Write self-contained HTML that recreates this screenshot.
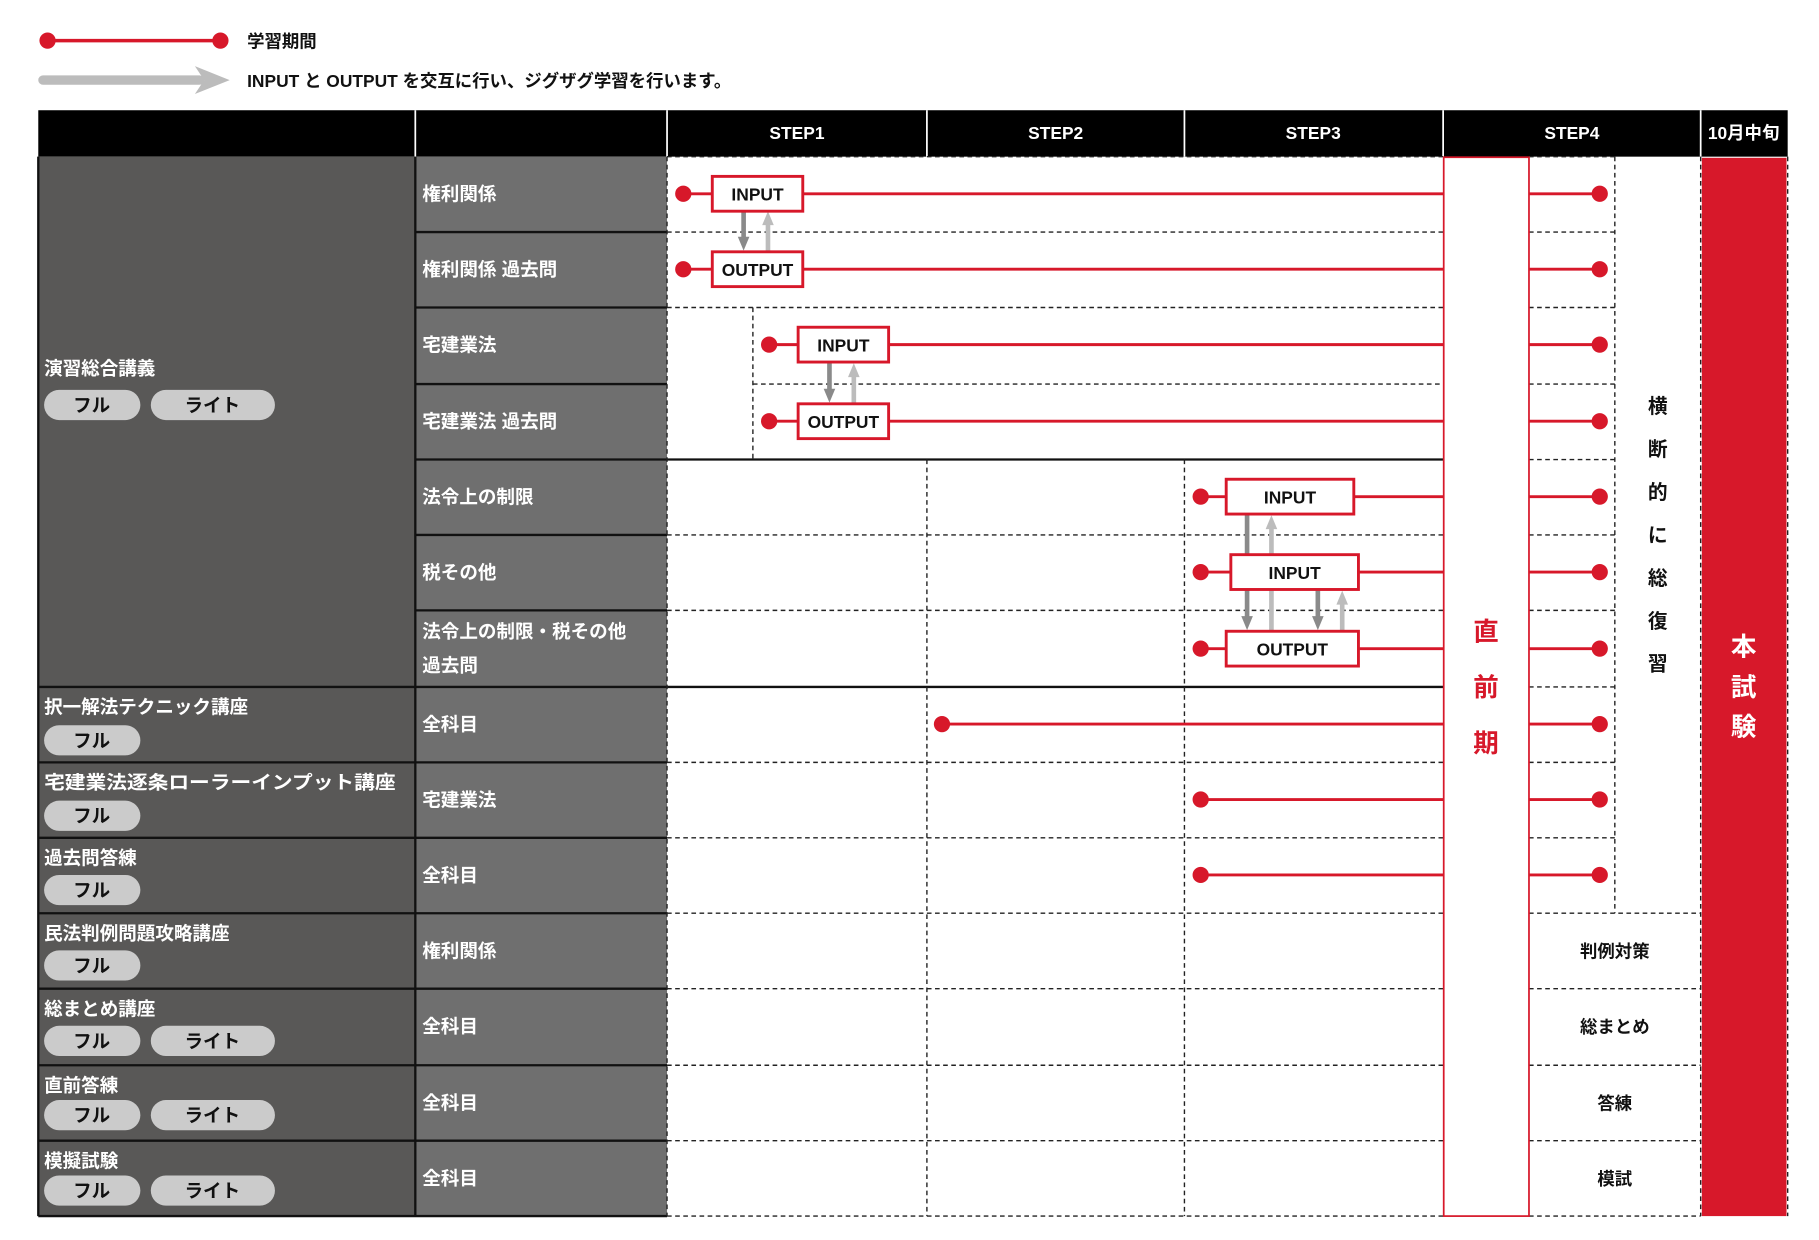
<!DOCTYPE html>
<html><head><meta charset="utf-8"><style>html,body{margin:0;padding:0;background:#fff}svg{display:block}
text{font-family:"Liberation Sans","Noto Sans CJK JP",sans-serif;font-weight:bold}</style></head>
<body>
<svg width="1819" height="1240" viewBox="0 0 1568 1068.6" preserveAspectRatio="none" xmlns="http://www.w3.org/2000/svg">
<line x1="40" y1="35" x2="190" y2="35" stroke="#d7182a" stroke-width="3"/>
<circle cx="41" cy="35" r="7" fill="#d7182a"/><circle cx="190" cy="35" r="7" fill="#d7182a"/>
<text x="213" y="41" font-size="15" fill="#111">学習期間</text>
<line x1="37" y1="69" x2="172" y2="69" stroke="#bcbcbc" stroke-width="8" stroke-linecap="round"/>
<polygon points="168,57 198,69 168,81 176,69" fill="#bcbcbc"/>
<text x="213" y="75" font-size="15" fill="#111">INPUT と OUTPUT を交互に行い、ジグザグ学習を行います。</text>
<rect x="33" y="95" width="1508" height="40" fill="#000"/>
<g stroke="#fff" stroke-width="1.5"><line x1="358" y1="95" x2="358" y2="135"/><line x1="575" y1="95" x2="575" y2="135"/><line x1="799" y1="95" x2="799" y2="135"/><line x1="1021" y1="95" x2="1021" y2="135"/><line x1="1244" y1="95" x2="1244" y2="135"/><line x1="1466" y1="95" x2="1466" y2="135"/></g>
<g fill="#fff" font-size="15" text-anchor="middle"><text x="687" y="120">STEP1</text><text x="910" y="120">STEP2</text><text x="1132" y="120">STEP3</text><text x="1355" y="120">STEP4</text><text x="1503" y="120">10月中旬</text></g>
<rect x="33" y="135" width="325" height="913" fill="#595857"/>
<rect x="358" y="135" width="217" height="913" fill="#6f6f6f"/>
<g stroke="#111" stroke-width="2">
<line x1="33" y1="592" x2="358" y2="592"/><line x1="33" y1="657" x2="358" y2="657"/><line x1="33" y1="722" x2="358" y2="722"/><line x1="33" y1="787" x2="358" y2="787"/><line x1="33" y1="852" x2="358" y2="852"/><line x1="33" y1="918" x2="358" y2="918"/><line x1="33" y1="983" x2="358" y2="983"/>
<line x1="358" y1="200" x2="575" y2="200"/><line x1="358" y1="265" x2="575" y2="265"/><line x1="358" y1="331" x2="575" y2="331"/><line x1="358" y1="396" x2="575" y2="396"/><line x1="358" y1="461" x2="575" y2="461"/><line x1="358" y1="526" x2="575" y2="526"/><line x1="358" y1="592" x2="575" y2="592"/><line x1="358" y1="657" x2="575" y2="657"/><line x1="358" y1="722" x2="575" y2="722"/><line x1="358" y1="787" x2="575" y2="787"/><line x1="358" y1="852" x2="575" y2="852"/><line x1="358" y1="918" x2="575" y2="918"/><line x1="358" y1="983" x2="575" y2="983"/>
<line x1="33" y1="1048" x2="575" y2="1048"/><line x1="358" y1="135" x2="358" y2="1048"/><line x1="33" y1="135" x2="33" y2="1048"/>
<line x1="575" y1="396" x2="1244" y2="396"/><line x1="575" y1="592" x2="1244" y2="592"/>
</g>
<g fill="#fff" font-size="16">
<text x="38" y="323">演習総合講義</text>
<text x="38" y="615">択一解法テクニック講座</text>
<text x="38" y="680" textLength="303" lengthAdjust="spacingAndGlyphs">宅建業法逐条ローラーインプット講座</text>
<text x="38" y="745">過去問答練</text>
<text x="38" y="810">民法判例問題攻略講座</text>
<text x="38" y="875">総まとめ講座</text>
<text x="38" y="941">直前答練</text>
<text x="38" y="1006">模擬試験</text>
<text x="364" y="173">権利関係</text><text x="364" y="238">権利関係 過去問</text><text x="364" y="303">宅建業法</text><text x="364" y="369">宅建業法 過去問</text><text x="364" y="434">法令上の制限</text><text x="364" y="499">税その他</text><text x="364" y="550">法令上の制限・税その他</text><text x="364" y="579">過去問</text><text x="364" y="630">全科目</text><text x="364" y="695">宅建業法</text><text x="364" y="760">全科目</text><text x="364" y="825">権利関係</text><text x="364" y="890">全科目</text><text x="364" y="956">全科目</text><text x="364" y="1021">全科目</text>
</g>
<g fill="#cbcbcb">
<rect x="38" y="336" width="83" height="26" rx="13"/><rect x="130" y="336" width="107" height="26" rx="13"/>
<rect x="38" y="625" width="83" height="26" rx="13"/>
<rect x="38" y="690" width="83" height="26" rx="13"/>
<rect x="38" y="754" width="83" height="26" rx="13"/>
<rect x="38" y="819" width="83" height="26" rx="13"/>
<rect x="38" y="884" width="83" height="26" rx="13"/><rect x="130" y="884" width="107" height="26" rx="13"/>
<rect x="38" y="948" width="83" height="26" rx="13"/><rect x="130" y="948" width="107" height="26" rx="13"/>
<rect x="38" y="1013" width="83" height="26" rx="13"/><rect x="130" y="1013" width="107" height="26" rx="13"/>
</g>
<g fill="#111" font-size="16" text-anchor="middle">
<text x="79" y="355">フル</text><text x="183" y="355">ライト</text>
<text x="79" y="644">フル</text><text x="79" y="709">フル</text><text x="79" y="773">フル</text><text x="79" y="838">フル</text>
<text x="79" y="903">フル</text><text x="183" y="903">ライト</text>
<text x="79" y="967">フル</text><text x="183" y="967">ライト</text>
<text x="79" y="1032">フル</text><text x="183" y="1032">ライト</text>
</g>
<g stroke="#222" stroke-width="1.2" stroke-dasharray="4,3" fill="none">
<line x1="575" y1="135" x2="1244" y2="135"/>
<line x1="575" y1="200" x2="1244" y2="200"/><line x1="575" y1="265" x2="1244" y2="265"/><line x1="649" y1="331" x2="1244" y2="331"/>
<line x1="575" y1="461" x2="1244" y2="461"/><line x1="575" y1="526" x2="1244" y2="526"/>
<line x1="575" y1="657" x2="1244" y2="657"/><line x1="575" y1="722" x2="1244" y2="722"/><line x1="575" y1="787" x2="1244" y2="787"/><line x1="575" y1="852" x2="1244" y2="852"/><line x1="575" y1="918" x2="1244" y2="918"/><line x1="575" y1="983" x2="1244" y2="983"/><line x1="575" y1="1048" x2="1244" y2="1048"/>
<line x1="575" y1="135" x2="575" y2="1048"/>
<line x1="649" y1="265" x2="649" y2="396"/>
<line x1="799" y1="396" x2="799" y2="1048"/><line x1="1021" y1="396" x2="1021" y2="1048"/>
<line x1="1318" y1="135" x2="1392" y2="135"/>
<line x1="1318" y1="200" x2="1392" y2="200"/><line x1="1318" y1="265" x2="1392" y2="265"/><line x1="1318" y1="331" x2="1392" y2="331"/><line x1="1318" y1="396" x2="1392" y2="396"/><line x1="1318" y1="461" x2="1392" y2="461"/><line x1="1318" y1="526" x2="1392" y2="526"/><line x1="1318" y1="592" x2="1392" y2="592"/><line x1="1318" y1="657" x2="1392" y2="657"/><line x1="1318" y1="722" x2="1392" y2="722"/>
<line x1="1318" y1="787" x2="1466" y2="787"/><line x1="1318" y1="852" x2="1466" y2="852"/><line x1="1318" y1="918" x2="1466" y2="918"/><line x1="1318" y1="983" x2="1466" y2="983"/><line x1="1318" y1="1048" x2="1466" y2="1048"/>
<line x1="1392" y1="135" x2="1392" y2="787"/>
<line x1="1466" y1="135" x2="1466" y2="1048"/><line x1="1541" y1="135" x2="1541" y2="1048"/>
</g>
<rect x="1244.5" y="135.5" width="73.5" height="912.5" fill="#fff" stroke="#d7182a" stroke-width="1.5"/>
<rect x="1467" y="136" width="73" height="912" fill="#d7182a"/>
<g font-size="22" text-anchor="middle" fill="#d7182a"><text x="1281" y="552">直</text><text x="1281" y="600">前</text><text x="1281" y="648">期</text></g>
<g font-size="22" text-anchor="middle" fill="#fff"><text x="1503" y="565">本</text><text x="1503" y="600">試</text><text x="1503" y="634">験</text></g>
<g font-size="17" text-anchor="middle" fill="#111"><text x="1429" y="356">横</text><text x="1429" y="393">断</text><text x="1429" y="430">的</text><text x="1429" y="467">に</text><text x="1429" y="504">総</text><text x="1429" y="541">復</text><text x="1429" y="578">習</text></g>
<g font-size="15" text-anchor="middle" fill="#111"><text x="1392" y="825">判例対策</text><text x="1392" y="890">総まとめ</text><text x="1392" y="956">答練</text><text x="1392" y="1021">模試</text></g>
<g stroke="#d7182a" stroke-width="2.5">
<line x1="589" y1="167" x2="1244" y2="167"/><line x1="589" y1="232" x2="1244" y2="232"/>
<line x1="663" y1="297" x2="1244" y2="297"/><line x1="663" y1="363" x2="1244" y2="363"/>
<line x1="1035" y1="428" x2="1244" y2="428"/><line x1="1035" y1="493" x2="1244" y2="493"/><line x1="1035" y1="559" x2="1244" y2="559"/>
<line x1="812" y1="624" x2="1244" y2="624"/><line x1="1035" y1="689" x2="1244" y2="689"/><line x1="1035" y1="754" x2="1244" y2="754"/>
<line x1="1318" y1="167" x2="1379" y2="167"/><line x1="1318" y1="232" x2="1379" y2="232"/><line x1="1318" y1="297" x2="1379" y2="297"/><line x1="1318" y1="363" x2="1379" y2="363"/><line x1="1318" y1="428" x2="1379" y2="428"/><line x1="1318" y1="493" x2="1379" y2="493"/><line x1="1318" y1="559" x2="1379" y2="559"/><line x1="1318" y1="624" x2="1379" y2="624"/><line x1="1318" y1="689" x2="1379" y2="689"/><line x1="1318" y1="754" x2="1379" y2="754"/>
</g>
<g fill="#d7182a">
<circle cx="589" cy="167" r="7"/><circle cx="589" cy="232" r="7"/><circle cx="663" cy="297" r="7"/><circle cx="663" cy="363" r="7"/><circle cx="1035" cy="428" r="7"/><circle cx="1035" cy="493" r="7"/><circle cx="1035" cy="559" r="7"/><circle cx="812" cy="624" r="7"/><circle cx="1035" cy="689" r="7"/><circle cx="1035" cy="754" r="7"/>
<circle cx="1379" cy="167" r="7"/><circle cx="1379" cy="232" r="7"/><circle cx="1379" cy="297" r="7"/><circle cx="1379" cy="363" r="7"/><circle cx="1379" cy="428" r="7"/><circle cx="1379" cy="493" r="7"/><circle cx="1379" cy="559" r="7"/><circle cx="1379" cy="624" r="7"/><circle cx="1379" cy="689" r="7"/><circle cx="1379" cy="754" r="7"/>
</g>
<g stroke-width="4">
<line x1="641" y1="182" x2="641" y2="206" stroke="#8a8a8a"/><line x1="662" y1="216" x2="662" y2="192" stroke="#bcbcbc"/>
<line x1="715" y1="313" x2="715" y2="337" stroke="#8a8a8a"/><line x1="736" y1="347" x2="736" y2="323" stroke="#bcbcbc"/>
<line x1="1075" y1="444" x2="1075" y2="533" stroke="#8a8a8a"/><line x1="1096" y1="543" x2="1096" y2="454" stroke="#bcbcbc"/>
<line x1="1136" y1="509" x2="1136" y2="533" stroke="#8a8a8a"/><line x1="1157" y1="543" x2="1157" y2="519" stroke="#bcbcbc"/>
</g>
<g>
<polygon points="636,204 646,204 641,216" fill="#8a8a8a"/><polygon points="657,194 667,194 662,182" fill="#bcbcbc"/>
<polygon points="710,335 720,335 715,347" fill="#8a8a8a"/><polygon points="731,325 741,325 736,313" fill="#bcbcbc"/>
<polygon points="1070,531 1080,531 1075,543" fill="#8a8a8a"/><polygon points="1091,456 1101,456 1096,444" fill="#bcbcbc"/>
<polygon points="1131,531 1141,531 1136,543" fill="#8a8a8a"/><polygon points="1152,521 1162,521 1157,509" fill="#bcbcbc"/>
</g>
<g fill="#fff" stroke="#d7182a" stroke-width="2.5">
<rect x="614" y="152" width="78" height="30"/><rect x="614" y="217" width="78" height="30"/>
<rect x="688" y="282" width="78" height="30"/><rect x="688" y="348" width="78" height="30"/>
<rect x="1057" y="413" width="110" height="30"/><rect x="1061" y="478" width="110" height="30"/><rect x="1057" y="544" width="114" height="30"/>
</g>
<g font-size="15" text-anchor="middle" fill="#111">
<text x="653" y="173">INPUT</text><text x="653" y="238">OUTPUT</text><text x="727" y="303">INPUT</text><text x="727" y="369">OUTPUT</text>
<text x="1112" y="434">INPUT</text><text x="1116" y="499">INPUT</text><text x="1114" y="565">OUTPUT</text>
</g>
</svg>
</body></html>
